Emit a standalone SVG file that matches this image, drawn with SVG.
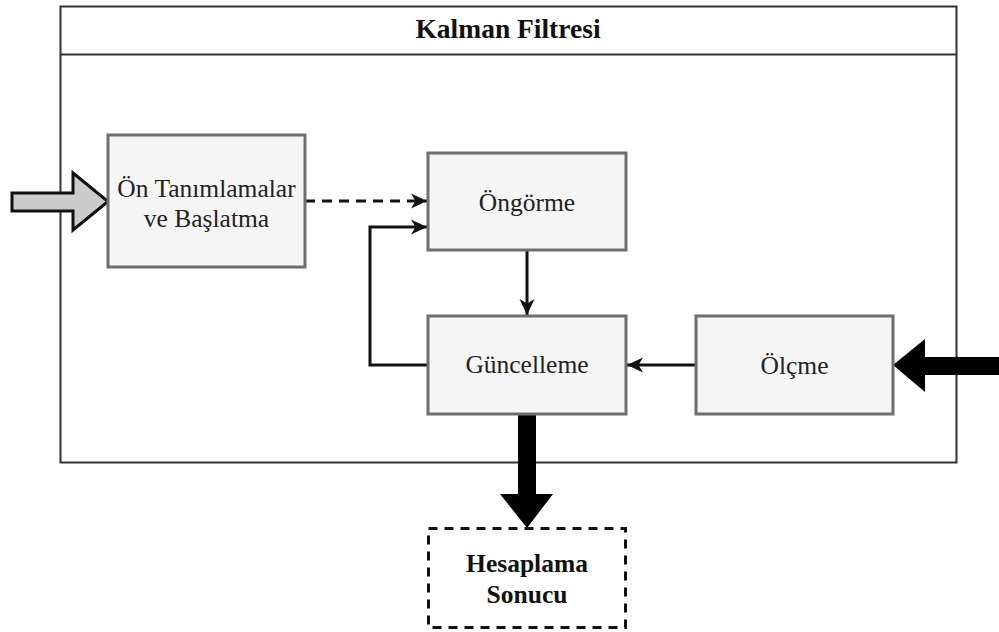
<svg xmlns="http://www.w3.org/2000/svg" width="999" height="632" viewBox="0 0 999 632">
  <style>
    .box { fill: #f5f5f5; stroke: #6e6e6e; stroke-width: 3; }
    .lbl { font-family: "Liberation Serif", "Times New Roman", serif; font-size: 25.5px; fill: #222222; text-anchor: middle; }
    .bold { font-weight: bold; fill: #111111; }
    .edge { fill: none; stroke: #111111; stroke-width: 3; }
  </style>
  <defs>
    <marker id="arrow" viewBox="0 0 18 18" refX="17" refY="9" markerWidth="18" markerHeight="18" markerUnits="userSpaceOnUse" orient="auto">
      <path d="M1,1.5 L17,9 L1,16.5 L5.5,9 Z" fill="#111111"/>
    </marker>
  </defs>

  <rect width="999" height="632" fill="#ffffff"/>

  <!-- container -->
  <g id="kalman-filtresi">
    <rect x="60.5" y="6.5" width="896" height="456" fill="#ffffff" stroke="#333333" stroke-width="2"/>
    <line x1="60.5" y1="54.5" x2="956.5" y2="54.5" stroke="#333333" stroke-width="2"/>
    <text class="lbl bold" x="508" y="38" style="font-size:27.5px">Kalman Filtresi</text>
  </g>

  <!-- connectors -->
  <g id="connectors">
    <path class="edge" d="M305,201 L427,201" stroke-dasharray="10 7" marker-end="url(#arrow)"/>
    <path class="edge" d="M428,365 L370,365 L370,227 L427,227" marker-end="url(#arrow)"/>
    <path class="edge" d="M527,250 L527,315" marker-end="url(#arrow)"/>
    <path class="edge" d="M696,365 L627,365" marker-end="url(#arrow)"/>
    <!-- input block arrow -->
    <polygon points="12,193 73,193 73,173 108,201.5 73,230 73,211 12,211" fill="#cccccc" stroke="#111111" stroke-width="3" stroke-linejoin="miter"/>
    <!-- measurement input arrow -->
    <polygon points="999,357 925,357 925,339 893,365 925,392 925,375 999,375" fill="#000000"/>
    <!-- result output arrow -->
    <polygon points="518,414 536,414 536,494 553,494 527,528 500,494 518,494" fill="#000000"/>
  </g>

  <g id="on-tanimlamalar">
    <rect class="box" x="108" y="135" width="197" height="132"/>
    <text class="lbl" x="206.5" y="197">Ön Tanımlamalar</text>
    <text class="lbl" x="206.5" y="227">ve Başlatma</text>
  </g>

  <g id="ongorme">
    <rect class="box" x="428" y="153" width="198" height="97"/>
    <text class="lbl" x="527" y="211">Öngörme</text>
  </g>

  <g id="guncelleme">
    <rect class="box" x="428" y="316" width="198" height="98"/>
    <text class="lbl" x="527" y="373">Güncelleme</text>
  </g>

  <g id="olcme">
    <rect class="box" x="696" y="316" width="197" height="98"/>
    <text class="lbl" x="794.5" y="374">Ölçme</text>
  </g>

  <g id="hesaplama-sonucu">
    <rect x="428.5" y="528.5" width="197" height="99" fill="#ffffff" stroke="#111111" stroke-width="3" stroke-dasharray="9 7"/>
    <text class="lbl bold" x="527" y="572">Hesaplama</text>
    <text class="lbl bold" x="527" y="603">Sonucu</text>
  </g>
</svg>
